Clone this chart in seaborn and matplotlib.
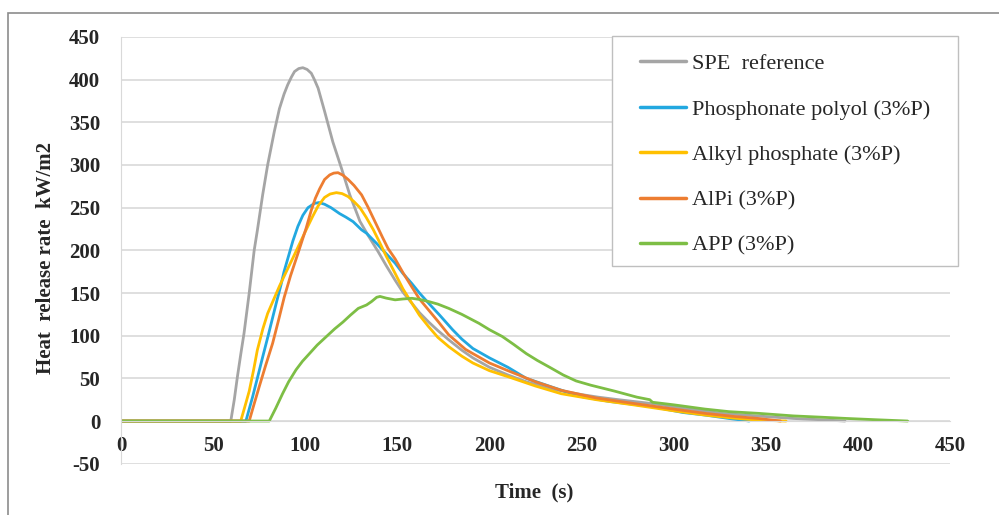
import pandas as pd
import matplotlib.pyplot as plt
import seaborn as sns
from matplotlib.patches import Rectangle

series_names = ["SPE  reference", "Phosphonate polyol (3%P)", "Alkyl phosphate (3%P)",
                "AlPi (3%P)", "APP (3%P)"]
colours = ["#A5A5A5", "#22A8E0", "#FFC000", "#ED7D31", "#7DBE45"]

t_spe = [0, 59.6, 61.5, 63.2, 65, 66.8, 69.6, 72.3, 74, 76.9, 79.6, 83.3, 86, 88.5, 90.5,
         92.5, 94.2, 96.5, 98.7, 101, 103.3, 105, 107, 110.5, 115, 119.7, 124.2, 129.7, 134,
         139.7, 144, 148.8, 153, 157.9, 162, 167, 172, 178, 185, 191, 200, 210, 220, 235,
         250, 259, 270, 288, 305, 326, 345, 365, 380, 393]
v_spe = [0, 0, 25, 52, 78, 103, 150, 200, 223, 265, 300, 340, 366, 383, 394,
         403, 409.5, 413, 414, 412, 407.5, 400, 390, 363, 327, 296, 265, 234, 218,
         198, 182, 165, 151, 138, 127, 116, 106, 95, 83, 74, 63, 54, 46, 37,
         31, 28, 25, 20.5, 15, 9, 6, 3, 1.5, 0]

t_phos = [0, 67.8, 71.4, 74, 76.9, 80, 82.3, 84.5, 86.9, 88.5, 90.5, 93.3, 96, 98.7, 101.5,
          105, 107.5, 110.5, 114, 118.7, 122, 126, 130.6, 133.3, 138.8, 142, 148.8, 153,
          157.9, 162, 167, 173, 180, 185, 191, 200, 210, 220, 235, 249, 265, 288, 305, 317,
          330, 341]
v_phos = [0, 0, 28, 50, 75, 101, 121, 140, 160, 175, 190, 211, 228, 241, 250,
          255, 256, 254, 250, 243, 239, 233.6, 224, 220, 208, 200.5, 185, 173,
          161, 150, 138, 124, 107, 96, 85, 74, 63, 50, 39, 29, 23, 17, 10, 7,
          3, 0]

t_alkyl = [0, 65, 67, 69.6, 72, 74, 77, 79.6, 83, 86, 89.5, 93.3, 97, 100.5, 104.1, 107,
           110.5, 113.5, 116.9, 120, 123.3, 126.5, 129.7, 133, 137, 140, 144, 148.8, 153,
           157.9, 162, 167, 172, 178, 185, 191, 200, 210, 225, 239, 258, 278, 300, 317,
           332, 346, 361]
v_alkyl = [0, 0, 15, 35, 60, 83, 108, 126, 143, 158, 174, 191, 208, 224, 240, 252,
           262, 266, 267.6, 266.5, 263, 257, 250, 239, 224, 211, 193, 173, 155,
           138, 124, 110.5, 98, 87, 76, 68, 59, 52, 41, 32, 25, 19, 12, 7,
           3.5, 1, 0]

t_alpi = [0, 69.6, 72, 75, 78.5, 82.3, 85.5, 88.6, 92, 96, 100.5, 103.3, 105.5, 107.8,
          110.5, 113.3, 115.5, 117.8, 120.5, 123.3, 126.5, 130.6, 134, 138, 142, 145, 148.8,
          153, 157.9, 162, 167, 172, 177.9, 187, 191, 200, 210, 225, 239, 258, 278, 300,
          317, 332, 346, 358]
v_alpi = [0, 0, 18, 40, 65, 91, 118, 145, 170, 196, 226, 247, 261, 272,
          283, 288.4, 290.5, 291, 288, 283, 276, 265, 251, 233, 215, 202, 190,
          174, 157, 143, 130, 117, 101, 84, 79, 68, 59, 46, 36, 27, 20.7, 14,
          9, 5.5, 3, 0]

t_app = [0, 80.5, 84, 87.7, 91, 95, 98.5, 102.3, 106.5, 111.5, 116, 120.5, 124.5, 128.8,
         133.3, 136, 138.8, 140.6, 144, 148.8, 153, 157.9, 162, 167, 172, 177.9, 185, 194.3,
         200, 207, 213, 220, 226, 233.5, 240, 247, 255, 268, 280, 287, 288.5, 300, 317,
         330, 346, 365, 380, 394, 410, 427]
v_app = [0, 0, 15, 32, 46, 60, 70, 79, 89, 99, 108, 116, 124, 132,
         136, 140, 145, 146, 144, 142, 143, 143.8, 142.5, 140, 137, 132, 125, 114.5,
         107, 99, 90, 79, 71, 62, 54, 47, 42, 35, 28, 25, 22, 19, 14,
         11, 9, 6, 4.5, 3, 1.5, 0]

times = [t_spe, t_phos, t_alkyl, t_alpi, t_app]
values = [v_spe, v_phos, v_alkyl, v_alpi, v_app]

frames = []
for name, ts, vs in zip(series_names, times, values):
    frames.append(pd.DataFrame({"time": ts, "hrr": vs, "series": name}))
df = pd.concat(frames, ignore_index=True)

sns.set_style("white")
plt.rcParams['font.family'] = ['Liberation Serif', 'DejaVu Serif']
plt.rcParams['axes.unicode_minus'] = False

fig = plt.figure(figsize=(9.99, 5.15), dpi=100)
ax = fig.add_axes([0.1211, 0.0996, 0.8299, 0.8286])

sns.lineplot(data=df, x="time", y="hrr", hue="series", hue_order=series_names,
             palette=dict(zip(series_names, colours)), estimator=None, sort=False,
             linewidth=2.0, ax=ax)

ax.set_xlim(0, 450)
ax.set_ylim(-50, 450)
ax.set_xticks(range(0, 451, 50))
ax.set_yticks(range(-50, 451, 50))
ax.yaxis.grid(True, color="#d9d9d9", lw=1.2)
ax.set_axisbelow(True)

for side in ["top", "right"]:
    ax.spines[side].set_visible(False)
ax.spines["left"].set_color("#d9d9d9")
ax.spines["bottom"].set_color("#d9d9d9")
ax.spines["bottom"].set_position(("data", 0))

ax.tick_params(axis="both", length=0, labelsize=15)
ax.tick_params(axis="x", pad=11)
ax.tick_params(axis="y", pad=15)
for lab in ax.get_xticklabels() + ax.get_yticklabels():
    lab.set_fontweight("bold")

ax.set_xlabel("Time  (s)", fontsize=15, fontweight="bold")
ax.set_ylabel("Heat  release rate  kW/m2", fontsize=15, fontweight="bold")
ax.xaxis.set_label_coords(0.498, -0.045)
ax.yaxis.set_label_coords(-0.078, 0.482)

# legend box
ax.add_patch(Rectangle((0.5923, 0.4633), 0.4174, 0.539, transform=ax.transAxes,
                       facecolor="white", edgecolor="#bfbfbf", lw=1, zorder=3,
                       clip_on=False))
handles, labels = ax.get_legend_handles_labels()
leg = ax.legend(handles, labels, loc="upper left", bbox_to_anchor=(0.626, 0.961),
                frameon=False, fontsize=16, borderpad=0, borderaxespad=0,
                handlelength=2.07, handletextpad=0.25, labelspacing=1.12)
leg.set_zorder(5)
for line in leg.get_lines():
    line.set_linewidth(2.5)

# outer border
fig.add_artist(Rectangle((0.0085, -0.1), 1.2, 1.0757, transform=fig.transFigure,
                         fill=False, edgecolor="#8c8c8c", lw=1.2))

fig.savefig("out.png", dpi=100)
